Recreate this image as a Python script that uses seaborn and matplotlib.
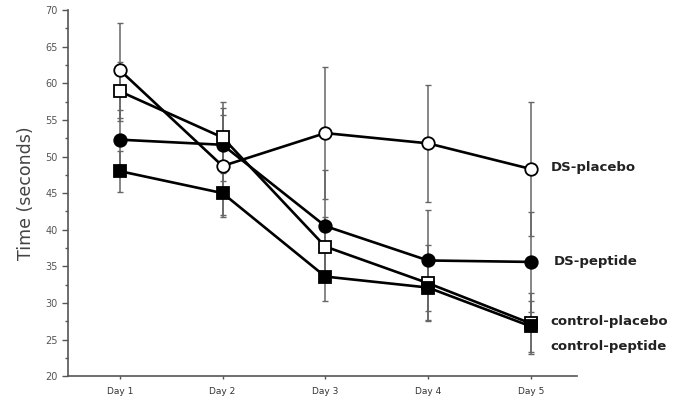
import numpy as np
import pandas as pd
import matplotlib
matplotlib.use("Agg")
import matplotlib.pyplot as plt
from matplotlib.ticker import MultipleLocator
import seaborn as sns

days = ["Day 1", "Day 2", "Day 3", "Day 4", "Day 5"]

ds_placebo = [61.8, 48.7, 53.2, 51.8, 48.3]
ds_placebo_err = [6.5, 7.0, 9.0, 8.0, 9.1]

ds_peptide = [52.3, 51.6, 40.5, 35.8, 35.6]
ds_peptide_err = [4.0, 5.0, 7.6, 6.9, 6.8]

control_placebo = [58.9, 52.6, 37.7, 32.7, 27.2]
control_placebo_err = [4.0, 4.8, 4.1, 5.2, 4.2]

control_peptide = [48.0, 45.0, 33.6, 32.1, 26.8]
control_peptide_err = [2.8, 3.0, 3.4, 4.4, 3.5]

series_names = ["DS-placebo", "DS-peptide", "control-placebo", "control-peptide"]

sns.set_style("ticks")
plt.rcParams['font.family'] = ['DejaVu Sans']

fig = plt.figure(figsize=(6.75, 4.04), dpi=100)
ax = fig.add_axes([0.1007, 0.069, 0.754, 0.906])

x = np.arange(1, len(days) + 1)
grey = "#555555"

series = [
    (ds_placebo, ds_placebo_err, "o", "white"),
    (ds_peptide, ds_peptide_err, "o", "black"),
    (control_placebo, control_placebo_err, "s", "white"),
    (control_peptide, control_peptide_err, "s", "black"),
]

# error bars first so markers sit on top
for vals, err, mk, fc in series:
    ax.errorbar(x, vals, yerr=err, fmt="none", ecolor="#666666",
                elinewidth=1.1, capsize=2.5, capthick=1.0, zorder=1)

for name, (vals, err, mk, fc) in zip(series_names, series):
    df = pd.DataFrame({"day": x, "time": vals})
    sns.lineplot(data=df, x="day", y="time", ax=ax, color="black",
                 linewidth=1.9, marker=mk, markersize=9,
                 markerfacecolor=fc, markeredgecolor="black",
                 markeredgewidth=1.3, zorder=3)

ax.set_xlim(0.495, 5.45)
ax.set_ylim(20, 70)
ax.set_xticks(x)
ax.set_xticklabels(days, fontsize=6.5, color="#333333")
ax.yaxis.set_major_locator(MultipleLocator(5))
ax.yaxis.set_minor_locator(MultipleLocator(2.5))
ax.tick_params(axis="y", which="major", labelsize=7, colors=grey, length=4, width=1)
ax.tick_params(axis="y", which="minor", length=2, width=1, color=grey)
ax.tick_params(axis="x", which="major", length=2.5, width=1, color=grey, pad=5)
ax.set_xlabel("")
ax.set_ylabel("Time (seconds)", fontsize=12.5, color="#444444", labelpad=7)

for side in ["top", "right"]:
    ax.spines[side].set_visible(False)
for side in ["left", "bottom"]:
    ax.spines[side].set_color(grey)
    ax.spines[side].set_linewidth(1.2)

# series labels at the right end
label_y = [48.5, 35.6, 27.5, 24.0]
label_x = [5.2, 5.22, 5.19, 5.19]
for name, lx, ly in zip(series_names, label_x, label_y):
    ax.text(lx, ly, name, fontsize=9.5, fontweight="bold", color="#222222",
            ha="left", va="center", clip_on=False)

fig.savefig("out.png", dpi=100)
